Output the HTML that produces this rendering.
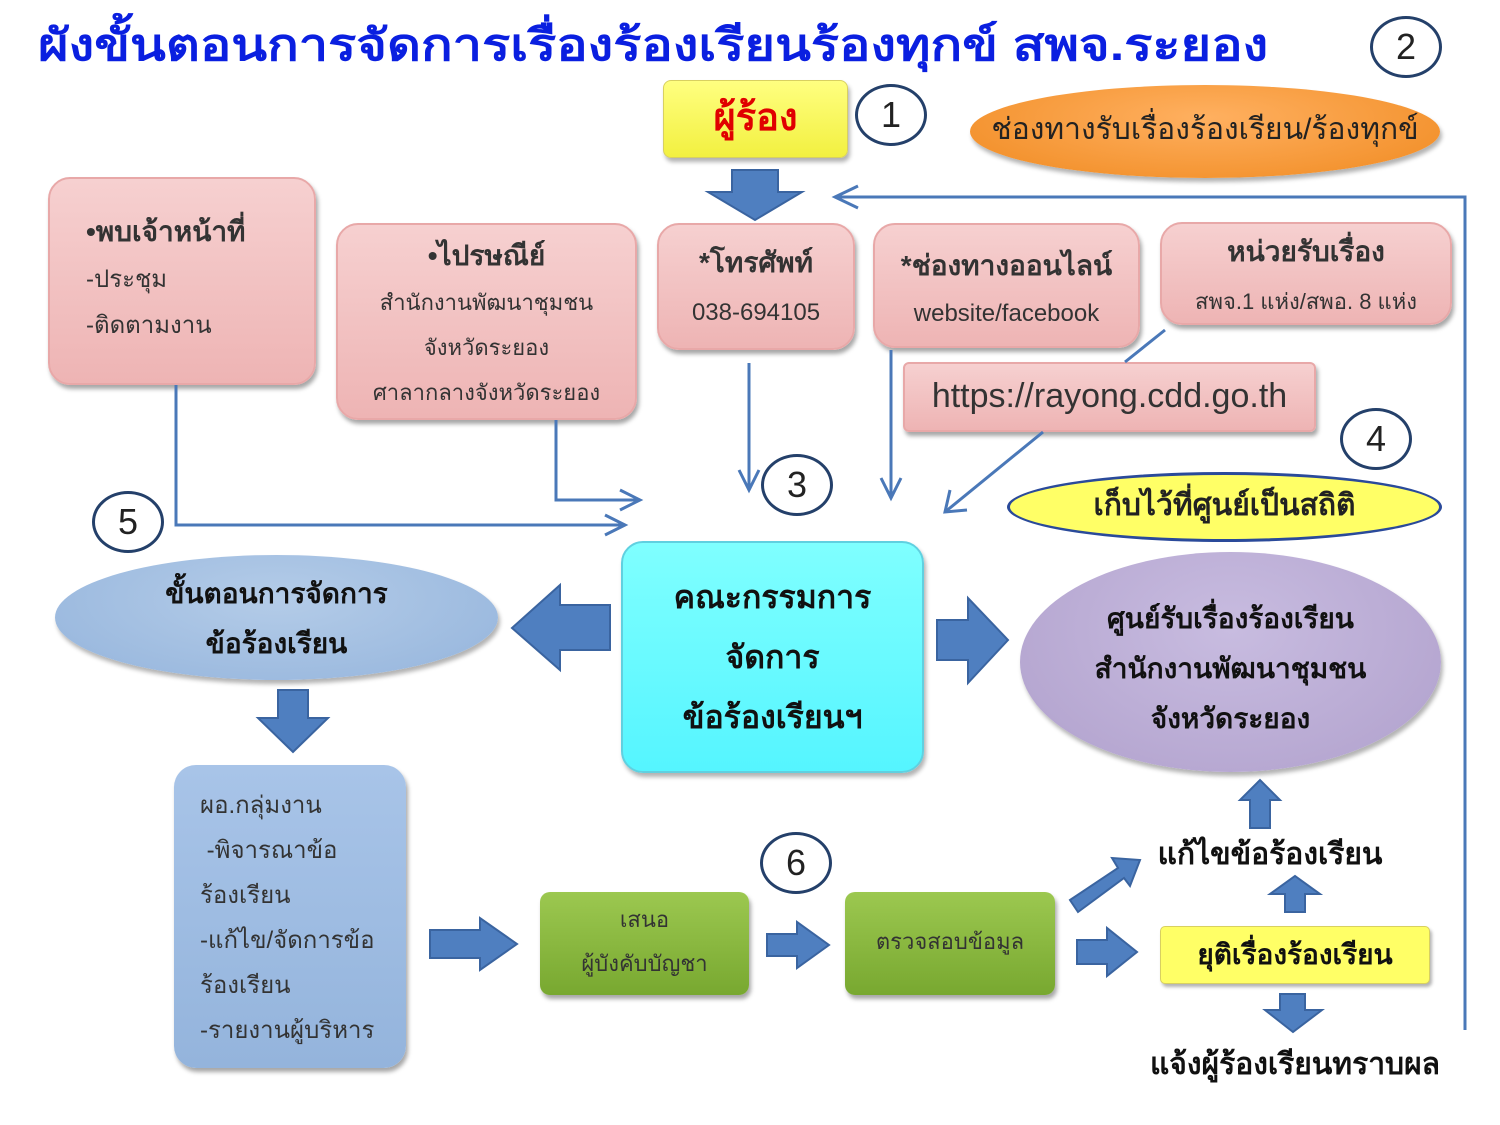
<!DOCTYPE html>
<html><head><meta charset="utf-8"><style>
body{margin:0;width:1500px;height:1125px;background:#fff;position:relative;overflow:hidden;font-family:"Liberation Sans","DejaVu Sans","Noto Sans CJK SC",sans-serif}
.a{position:absolute;box-sizing:border-box;text-align:center}
.pink{background:linear-gradient(#f6d0d0,#eeb4b4);border:2px solid #e8a8a8;border-radius:22px;box-shadow:2px 4px 4px rgba(0,0,0,.35);color:#333}
.c{position:absolute;width:72px;height:62px;border:3px solid #24406a;border-radius:50%;box-sizing:border-box;text-align:center;font-size:36px;line-height:56px;color:#222}
.b{font-weight:bold}
</style></head><body>
<div class="a b" style="left:38px;top:10px;font-size:44px;color:#0a1fe0;text-align:left;white-space:nowrap;transform:scaleX(1.19);transform-origin:0 0">ผังขั้นตอนการจัดการเรื่องร้องเรียนร้องทุกข์ สพจ.ระยอง</div>
<div class="c" style="left:1370px;top:16px">2</div>
<div class="a b" style="left:663px;top:80px;width:185px;height:78px;background:linear-gradient(#ffff80,#f2f040);border:1px solid #d8d060;border-radius:8px;box-shadow:2px 4px 4px rgba(0,0,0,.3);color:#e00000;font-size:38px;line-height:74px">ผู้ร้อง</div>
<div class="c" style="left:855px;top:84px">1</div>
<div class="a" style="left:970px;top:85px;width:470px;height:93px;border-radius:50%;background:radial-gradient(ellipse at 50% 35%,#ffb060,#f08a20);box-shadow:2px 4px 4px rgba(0,0,0,.3);font-size:30px;line-height:90px;color:#222">ช่องทางรับเรื่องร้องเรียน/ร้องทุกข์</div>

<div class="a pink" style="left:48px;top:177px;width:268px;height:208px;text-align:left;padding:30px 0 0 36px;font-size:24px;line-height:46px"><span class="b" style="font-size:28px">•พบเจ้าหน้าที่</span><br>-ประชุม<br>-ติดตามงาน</div>
<div class="a pink" style="left:336px;top:223px;width:301px;height:197px;padding-top:8px;font-size:22px;line-height:45px"><span class="b" style="font-size:28px">•ไปรษณีย์</span><br>สำนักงานพัฒนาชุมชน<br>จังหวัดระยอง<br>ศาลากลางจังหวัดระยอง</div>
<div class="a pink" style="left:657px;top:223px;width:198px;height:127px;padding-top:14px;font-size:24px;line-height:48px"><span class="b" style="font-size:28px">*โทรศัพท์</span><br>038-694105</div>
<div class="a pink" style="left:873px;top:223px;width:267px;height:125px;padding-top:18px;font-size:24px;line-height:46px"><span class="b" style="font-size:28px">*ช่องทางออนไลน์</span><br>website/facebook</div>
<div class="a pink" style="left:1160px;top:222px;width:292px;height:103px;padding-top:4px;font-size:22px;line-height:48px"><span class="b" style="font-size:28px">หน่วยรับเรื่อง</span><br>สพจ.1 แห่ง/สพอ. 8 แห่ง</div>
<div class="a pink" style="left:903px;top:362px;width:413px;height:70px;border-radius:6px;font-size:34px;line-height:64px">https://rayong.cdd.go.th</div>

<svg class="a" style="left:0;top:0" width="1500" height="1125">
<g stroke="#4a78b8" stroke-width="3" fill="none">
<polyline points="1465,1030 1465,197 835,197"/><polyline points="858,186 835,197 858,208"/>
<polyline points="176,385 176,525 625,525"/><polyline points="605,515 625,525 605,535"/>
<polyline points="556,420 556,500 640,500"/><polyline points="620,490 640,500 620,510"/>
<line x1="749" y1="363" x2="749" y2="490"/><polyline points="739,470 749,490 759,470"/>
<line x1="891" y1="350" x2="891" y2="498"/><polyline points="881,478 891,498 901,478"/>
<line x1="1043" y1="432" x2="945" y2="512"/><polyline points="950,490 945,512 967,510"/>
<line x1="1165" y1="330" x2="1125" y2="362"/>
</g>
<g fill="#4f7fc0" stroke="#3a64a0" stroke-width="2">
<polygon points="732,170 778,170 778,192 802,192 755,220 708,192 732,192"/>
<polygon points="610,605 560,605 560,585 512,628 560,670 560,650 610,650"/>
<polygon points="937,620 968,620 968,598 1008,640 968,683 968,660 937,660"/>
<polygon points="278,690 308,690 308,718 328,718 293,752 258,718 278,718"/>
<polygon points="430,930 480,930 480,918 517,944 480,970 480,958 430,958"/>
<polygon points="767,934 797,934 797,922 829,945 797,968 797,956 767,956"/>
<polygon points="1077,940 1107,940 1107,928 1137,952 1107,976 1107,964 1077,964"/>
<polygon points="1070,900 1118,868 1112,858 1140,860 1130,886 1124,878 1078,912"/>
<polygon points="1250,828 1270,828 1270,800 1280,800 1260,780 1240,800 1250,800"/>
<polygon points="1285,912 1305,912 1305,894 1320,894 1295,876 1270,894 1285,894"/>
<polygon points="1280,994 1305,994 1305,1010 1322,1010 1293,1032 1265,1010 1280,1010"/>
</g>
</svg>

<div class="c" style="left:761px;top:454px">3</div>
<div class="c" style="left:1340px;top:408px">4</div>
<div class="c" style="left:92px;top:491px">5</div>
<div class="c" style="left:760px;top:832px">6</div>
<div class="a b" style="left:1007px;top:472px;width:435px;height:70px;border-radius:50%;background:#ffff66;border:3px solid #2a4a9a;font-size:30px;line-height:62px;color:#222">เก็บไว้ที่ศูนย์เป็นสถิติ</div>
<div class="a b" style="left:621px;top:541px;width:303px;height:232px;border-radius:22px;background:linear-gradient(#7fffff,#55f5ff);border:2px solid #60d0e0;box-shadow:2px 4px 4px rgba(0,0,0,.3);font-size:32px;line-height:60px;padding-top:24px;color:#111">คณะกรรมการ<br>จัดการ<br>ข้อร้องเรียนฯ</div>
<div class="a b" style="left:55px;top:555px;width:443px;height:125px;border-radius:50%;background:radial-gradient(ellipse at 50% 35%,#b4cce8,#94b4dc);box-shadow:2px 4px 4px rgba(0,0,0,.3);font-size:28px;line-height:50px;padding-top:14px;color:#111">ขั้นตอนการจัดการ<br>ข้อร้องเรียน</div>
<div class="a b" style="left:1020px;top:552px;width:421px;height:220px;border-radius:50%;background:radial-gradient(ellipse at 50% 35%,#c8bce0,#b0a0cc);box-shadow:2px 4px 4px rgba(0,0,0,.3);font-size:28px;line-height:50px;padding-top:42px;color:#111">ศูนย์รับเรื่องร้องเรียน<br>สำนักงานพัฒนาชุมชน<br>จังหวัดระยอง</div>
<div class="a" style="left:174px;top:765px;width:232px;height:303px;border-radius:22px;background:linear-gradient(#a8c4e8,#94b4dc);box-shadow:2px 4px 4px rgba(0,0,0,.35);text-align:left;padding:18px 0 0 26px;font-size:24px;line-height:45px;color:#333">ผอ.กลุ่มงาน<br>&nbsp;-พิจารณาข้อ<br>ร้องเรียน<br>-แก้ไข/จัดการข้อ<br>ร้องเรียน<br>-รายงานผู้บริหาร</div>
<div class="a" style="left:540px;top:892px;width:209px;height:103px;border-radius:10px;background:linear-gradient(#9cc850,#78a830);box-shadow:2px 4px 4px rgba(0,0,0,.35);font-size:22px;line-height:44px;padding-top:6px;color:#333">เสนอ<br>ผู้บังคับบัญชา</div>
<div class="a" style="left:845px;top:892px;width:210px;height:103px;border-radius:10px;background:linear-gradient(#9cc850,#78a830);box-shadow:2px 4px 4px rgba(0,0,0,.35);font-size:22px;line-height:100px;color:#333">ตรวจสอบข้อมูล</div>
<div class="a b" style="left:1140px;top:830px;width:260px;font-size:30px;line-height:50px;color:#111">แก้ไขข้อร้องเรียน</div>
<div class="a b" style="left:1160px;top:926px;width:270px;height:58px;border-radius:5px;background:#ffff66;border:1px solid #d8d060;box-shadow:2px 3px 3px rgba(0,0,0,.3);font-size:28px;line-height:56px;color:#111">ยุติเรื่องร้องเรียน</div>
<div class="a b" style="left:1130px;top:1040px;width:330px;font-size:30px;line-height:50px;color:#111">แจ้งผู้ร้องเรียนทราบผล</div>
</body></html>
